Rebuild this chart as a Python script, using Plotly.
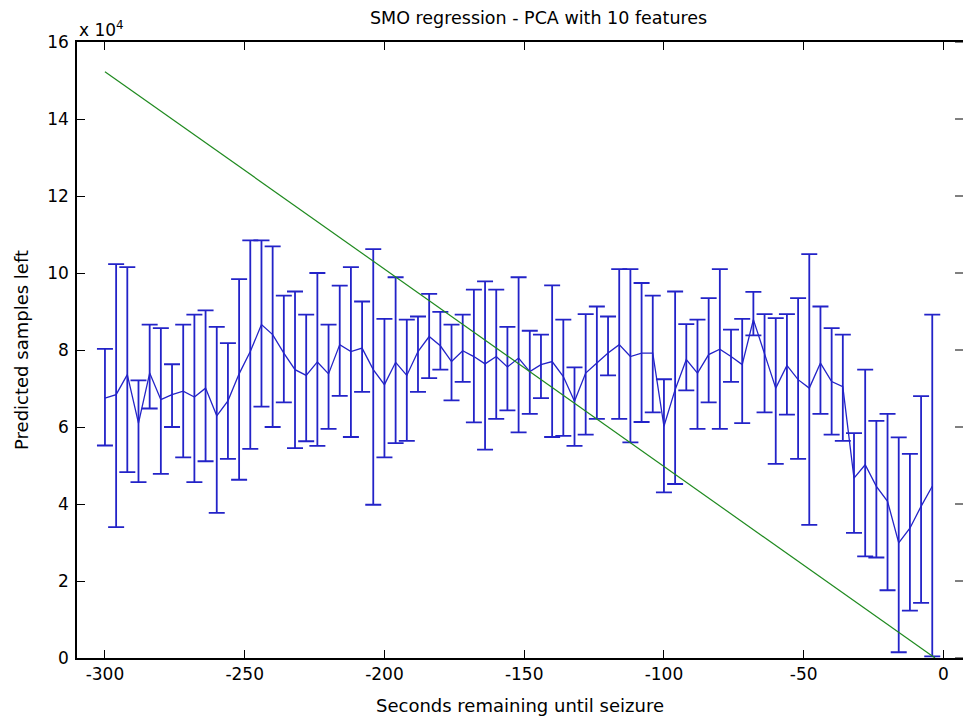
import plotly.graph_objects as go

# seconds before seizure (one window every 4 s)
x_sec = [-300, -296, -292, -288, -284, -280, -276, -272, -268, -264,
         -260, -256, -252, -248, -244, -240, -236, -232, -228, -224,
         -220, -216, -212, -208, -204, -200, -196, -192, -188, -184,
         -180, -176, -172, -168, -164, -160, -156, -152, -148, -144,
         -140, -136, -132, -128, -124, -120, -116, -112, -108, -104,
         -100, -96, -92, -88, -84, -80, -76, -72, -68, -64,
         -60, -56, -52, -48, -44, -40, -36, -32, -28, -24,
         -20, -16, -12, -8, -4]

# predicted samples left (x 10^4): mean, upper and lower end of error bar
pred_mean = [6.75, 6.84, 7.36, 6.10, 7.40, 6.71, 6.84, 6.93, 6.78, 7.01,
             6.29, 6.68, 7.38, 7.96, 8.66, 8.40, 7.92, 7.49, 7.34, 7.69,
             7.38, 8.14, 7.96, 8.05, 7.49, 7.10, 7.68, 7.34, 7.96, 8.35,
             8.11, 7.70, 7.98, 7.83, 7.64, 7.83, 7.56, 7.79, 7.44, 7.62,
             7.70, 7.31, 6.67, 7.40, 7.66, 7.92, 8.14, 7.83, 7.92, 7.92,
             6.02, 6.97, 7.75, 7.40, 7.88, 8.02, 7.83, 7.62, 8.79, 7.88,
             7.01, 7.60, 7.23, 7.01, 7.66, 7.18, 7.05, 4.67, 5.02, 4.46,
             4.07, 2.99, 3.37, 3.94, 4.46]
pred_high = [8.03, 10.23, 10.15, 7.21, 8.66, 8.57, 7.63, 8.66, 8.92, 9.03,
             8.60, 8.18, 9.84, 10.85, 10.85, 10.69, 9.41, 9.52, 8.92, 10.00,
             8.66, 9.67, 10.15, 9.26, 10.62, 8.81, 9.89, 8.79, 8.87, 9.46,
             8.99, 8.66, 8.92, 9.57, 9.78, 9.57, 8.60, 9.89, 8.50, 8.40,
             9.68, 8.79, 7.55, 8.93, 9.13, 8.87, 10.10, 10.10, 9.74, 9.41,
             7.24, 9.52, 8.67, 8.79, 9.35, 10.10, 8.53, 8.81, 9.51, 8.93,
             8.83, 8.93, 9.35, 10.49, 9.13, 8.57, 8.40, 5.84, 7.49, 6.16,
             6.34, 5.73, 5.30, 6.80, 8.92]
pred_low = [5.52, 3.40, 4.83, 4.57, 6.48, 4.78, 6.00, 5.21, 4.57, 5.11,
            3.77, 5.17, 4.63, 5.43, 6.53, 6.00, 6.64, 5.45, 5.63, 5.51,
            5.95, 6.81, 5.74, 6.91, 3.98, 5.21, 5.58, 5.64, 6.91, 7.27,
            7.49, 6.69, 7.17, 6.12, 5.41, 6.21, 6.43, 5.86, 6.34, 6.75,
            5.74, 5.77, 5.51, 5.80, 6.21, 7.34, 6.21, 5.60, 6.13, 6.38,
            4.30, 4.52, 6.95, 5.95, 6.64, 5.95, 7.17, 6.10, 8.38, 6.38,
            5.04, 6.32, 5.17, 3.46, 6.34, 5.80, 5.64, 3.25, 2.64, 2.61,
            1.76, 0.15, 1.23, 1.43, 0.04]

# actual samples left (x 10^4)
true_x = [-300, -3]
true_y = [15.23, 0.0]

y_ticks = [0, 2, 4, 6, 8, 10, 12, 14, 16]
x_ticks = [-300, -250, -200, -150, -100, -50, 0]

err_plus = [h - m for h, m in zip(pred_high, pred_mean)]
err_minus = [m - l for m, l in zip(pred_mean, pred_low)]

blue = "#2323c8"
font = "DejaVu Sans"

fig = go.Figure()
fig.add_trace(go.Scatter(
    x=x_sec, y=pred_mean, mode="lines",
    line=dict(color=blue, width=1.3),
    error_y=dict(type="data", symmetric=False, array=err_plus, arrayminus=err_minus,
                 color=blue, thickness=1.8, width=8),
    showlegend=False))
fig.add_trace(go.Scatter(
    x=true_x, y=true_y, mode="lines",
    line=dict(color="#1f8a1f", width=1.2),
    showlegend=False))

axis_common = dict(showgrid=False, zeroline=False, ticks="inside", ticklen=8,
                   tickcolor="black", linewidth=1.5,
                   automargin=False,
                   tickfont=dict(family=font, size=17, color="black"))

# right-hand tick marks (the right axis line itself is cut off in the original)
right_ticks = [dict(type="line", xref="paper", yref="y", x0=0.991, x1=1.0, y0=t, y1=t,
                    line=dict(color="black", width=1)) for t in y_ticks]

fig.update_layout(
    width=963, height=717,
    margin=dict(l=77, r=0, t=42, b=59),
    plot_bgcolor="white", paper_bgcolor="white",
    font=dict(family=font, color="black"),
    title=dict(text="SMO regression - PCA with 10 features", x=0.521, xref="paper",
               y=0.975, yanchor="middle", font=dict(family=font, size=17.5, color="black")),
    xaxis=dict(range=[-310, 7], tickvals=x_ticks, ticktext=[str(t) for t in x_ticks],
               showline=True, mirror="ticks", linecolor="black",
               title=dict(text="Seconds remaining until seizure", standoff=16,
                          font=dict(family=font, size=18, color="black")),
               **axis_common),
    yaxis=dict(range=[0, 16], tickvals=y_ticks, showline=True, linecolor="black",
               ticklabelstandoff=3,
               title=dict(text="Predicted samples left", standoff=14,
                          font=dict(family=font, size=18, color="black")),
               **axis_common),
    shapes=right_ticks,
    annotations=[dict(text="x 10<sup>4</sup>", xref="paper", yref="paper",
                      x=0, y=1, xanchor="left", yanchor="bottom", showarrow=False,
                      font=dict(family=font, size=17, color="black"))],
)

fig.write_html("out.html", config={"displayModeBar": False},
               post_script="document.body.style.margin='0';")
